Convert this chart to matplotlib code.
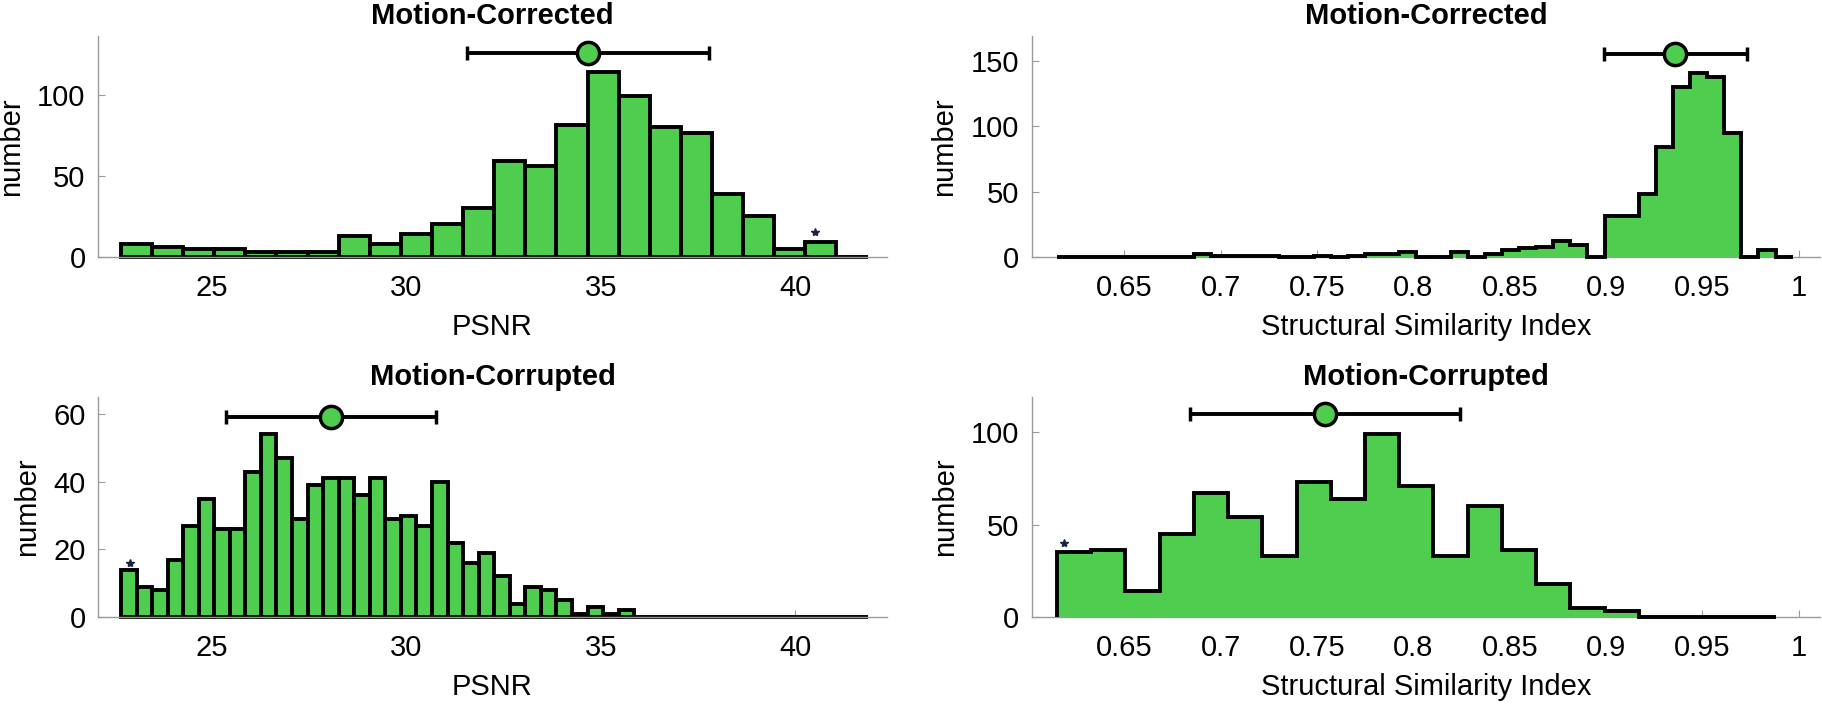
import numpy as np
import matplotlib
matplotlib.use("Agg")
import matplotlib.pyplot as plt

plt.rcParams['font.family'] = ['Liberation Sans', 'DejaVu Sans']

green = '#4fcd4f'
axis_grey = '#9a9a9a'

# PSNR histograms (bars), bins start at 22.66
psnr_start = 22.66
psnr_corr_width = 0.8
psnr_corr_counts = [8, 6, 5, 5, 3, 3, 3, 13, 8, 14, 20, 30, 59, 56, 81, 114,
                    99, 80, 76, 39, 25, 5, 9, 0]
psnr_bad_width = 0.4
psnr_bad_counts = [14, 9, 8, 17, 27, 35, 26, 26, 43, 54, 47, 29, 39, 41, 41, 36,
                   41, 29, 30, 27, 40, 22, 16, 19, 12, 4, 9, 8, 5, 1, 3, 1,
                   2, 0, 0, 0, 0, 0, 0, 0, 0, 0, 0, 0, 0, 0, 0, 0]

# SSIM histograms (stairs), bins start at 0.615
ssim_start = 0.615
ssim_corr_width = 0.00888
ssim_corr_counts = [0, 0, 0, 0, 0, 0, 0, 0, 2, 1, 1, 1, 1, 0, 0, 1, 0, 1, 2, 2,
                    4, 0, 0, 4, 0, 2, 5, 7, 8, 12, 9, 0, 31, 31, 48, 84, 130,
                    141, 138, 95, 0, 5, 0]
ssim_bad_width = 0.01776
ssim_bad_counts = [35, 36, 14, 45, 67, 54, 33, 73, 64, 99, 71, 33, 60, 36, 18,
                   5, 3, 0, 0, 0, 0]

# mean +- std markers
psnr_corr_mean, psnr_corr_std, psnr_corr_ey = 34.67, 3.12, 125.6
psnr_bad_mean, psnr_bad_std, psnr_bad_ey = 28.07, 2.70, 59.2
ssim_corr_mean, ssim_corr_std, ssim_corr_ey = 0.936, 0.037, 155.6
ssim_bad_mean, ssim_bad_std, ssim_bad_ey = 0.754, 0.070, 109.6

# little star markers
star_psnr_corr = (40.5, 15.4)
star_psnr_bad = (22.88, 15.9)
star_ssim_bad = (0.6186, 40.0)

psnr_xlim = (22.07, 42.36)
ssim_xlim = (0.602, 1.011)
psnr_ticks = [25, 30, 35, 40]
ssim_ticks = [0.65, 0.7, 0.75, 0.8, 0.85, 0.9, 0.95, 1.0]
ssim_ticklabels = ['0.65', '0.7', '0.75', '0.8', '0.85', '0.9', '0.95', '1']

FS = 21
LW = 2.8

fig = plt.figure(figsize=(18.22, 7.06), dpi=100)
ax1 = fig.add_axes([0.0538, 0.636, 0.433, 0.313])
ax2 = fig.add_axes([0.5664, 0.636, 0.4325, 0.313])
ax3 = fig.add_axes([0.0538, 0.126, 0.433, 0.3116])
ax4 = fig.add_axes([0.5664, 0.126, 0.4325, 0.3116])


def style(ax, xlim, ylim, yticks, xticks, xticklabels, xlabel, title):
    ax.set_xlim(*xlim)
    ax.set_ylim(*ylim)
    ax.set_yticks(yticks)
    ax.set_xticks(xticks)
    ax.set_xticklabels(xticklabels)
    for s in ['top', 'right']:
        ax.spines[s].set_visible(False)
    for s in ['left', 'bottom']:
        ax.spines[s].set_color(axis_grey)
        ax.spines[s].set_linewidth(1.0)
    ax.tick_params(direction='in', length=5, width=0.8, color=axis_grey,
                   labelsize=FS)
    ax.tick_params(axis='x', pad=12)
    ax.tick_params(axis='y', pad=9)
    ax.set_xlabel(xlabel, fontsize=FS, labelpad=8)
    ax.set_ylabel('number', fontsize=FS, labelpad=9)
    ax.set_title(title, fontsize=21, fontweight='bold', pad=9)


def bar_hist(ax, start, width, counts):
    edges = start + width * np.arange(len(counts))
    ax.bar(edges, counts, width=width, align='edge', color=green,
           edgecolor='k', linewidth=LW, zorder=2)


def stair_hist(ax, start, width, counts):
    edges = start + width * np.arange(len(counts) + 1)
    ax.stairs(counts, edges, fill=True, color=green, zorder=2)
    ax.stairs(counts, edges, baseline=0, color='k', linewidth=LW, zorder=3)


def mean_bar(ax, m, s, y):
    ax.errorbar([m], [y], xerr=[s], fmt='o', color='k', ecolor='k',
                elinewidth=LW, capsize=5, capthick=LW, ms=16, mfc=green,
                mec='k', mew=2.5, zorder=5)


bar_hist(ax1, psnr_start, psnr_corr_width, psnr_corr_counts)
mean_bar(ax1, psnr_corr_mean, psnr_corr_std, psnr_corr_ey)
ax1.plot(*star_psnr_corr, marker='*', color='#1a2440', ms=6, zorder=6)
style(ax1, psnr_xlim, (0, 136), [0, 50, 100], psnr_ticks,
      [str(t) for t in psnr_ticks], 'PSNR', 'Motion-Corrected')

stair_hist(ax2, ssim_start, ssim_corr_width, ssim_corr_counts)
mean_bar(ax2, ssim_corr_mean, ssim_corr_std, ssim_corr_ey)
style(ax2, ssim_xlim, (0, 169), [0, 50, 100, 150], ssim_ticks,
      ssim_ticklabels, 'Structural Similarity Index', 'Motion-Corrected')

bar_hist(ax3, psnr_start, psnr_bad_width, psnr_bad_counts)
mean_bar(ax3, psnr_bad_mean, psnr_bad_std, psnr_bad_ey)
ax3.plot(*star_psnr_bad, marker='*', color='#1a2440', ms=6, zorder=6)
style(ax3, psnr_xlim, (0, 65), [0, 20, 40, 60], psnr_ticks,
      [str(t) for t in psnr_ticks], 'PSNR', 'Motion-Corrupted')

stair_hist(ax4, ssim_start, ssim_bad_width, ssim_bad_counts)
mean_bar(ax4, ssim_bad_mean, ssim_bad_std, ssim_bad_ey)
ax4.plot(*star_ssim_bad, marker='*', color='#1a2440', ms=6, zorder=6)
style(ax4, ssim_xlim, (0, 119), [0, 50, 100], ssim_ticks,
      ssim_ticklabels, 'Structural Similarity Index', 'Motion-Corrupted')

for ax in (ax1, ax2, ax3, ax4):
    for art in ax.patches + ax.lines + ax.collections:
        art.set_clip_on(False)

fig.savefig('out.png', dpi=100)
